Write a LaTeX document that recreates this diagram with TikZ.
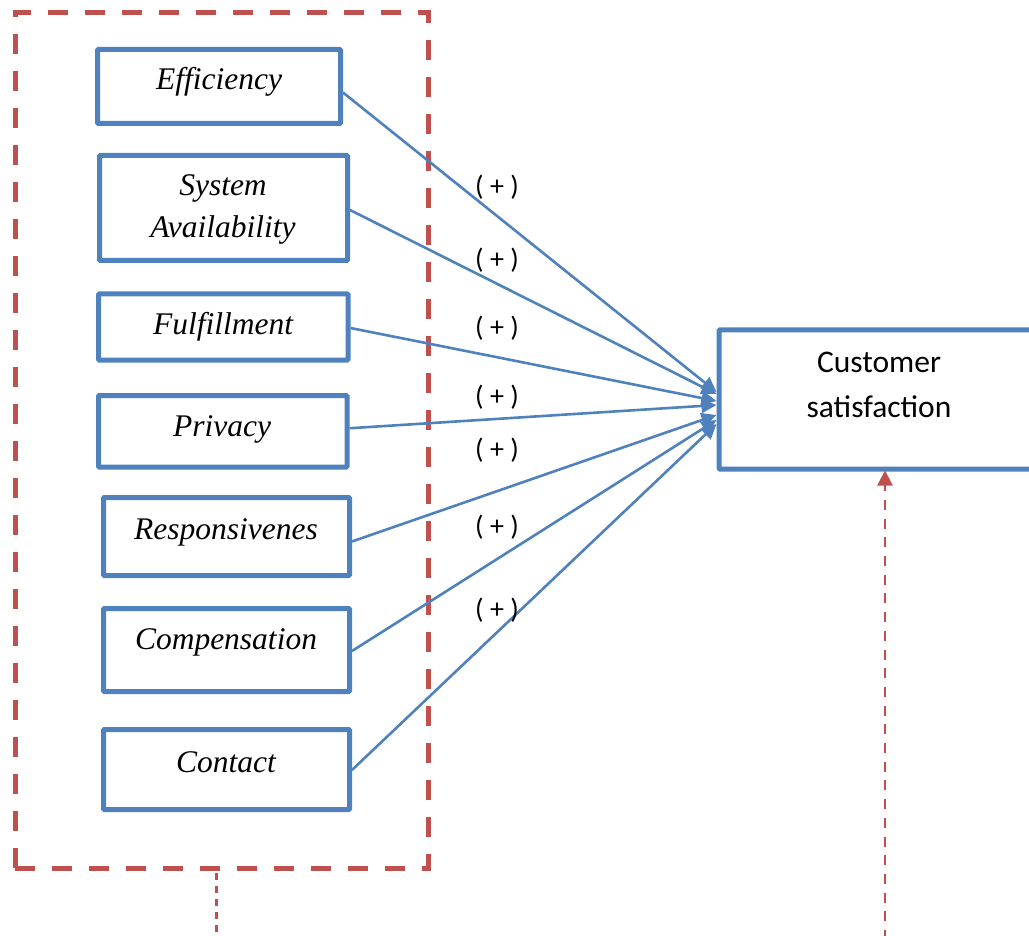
\documentclass[tikz,border=0pt]{standalone}
\usepackage{fontspec}
\setmainfont{Liberation Serif}
\newfontfamily\calibfont{Carlito}
\usetikzlibrary{arrows.meta}
\definecolor{boxblue}{RGB}{79,129,189}
\definecolor{grpred}{RGB}{192,80,77}
\begin{document}
\begin{tikzpicture}[x=1pt,y=-1pt,
  dim/.style={draw=boxblue,line width=5pt,fill=white,inner sep=0pt,rounded corners=1pt},
  dimtext/.style={font=\fontsize{31.5}{42}\selectfont\itshape,align=center,inner sep=0pt},
  link/.style={draw=boxblue,line width=2.6pt,-{Triangle[length=15pt,width=14pt]}},
  plus/.style={font=\calibfont\fontsize{28}{30}\selectfont,inner sep=0pt},
  grpbox/.style={draw=grpred,line width=5pt,dash pattern=on 20pt off 17pt,inner sep=0pt},
  dotline/.style={draw=grpred,line width=2.5pt}]
\useasboundingbox (0,0) rectangle (1029,936);
% group frame
\node[grpbox,minimum width=413pt,minimum height=855pt] (grp) at (221.5,440.5) {};
% dimension boxes
\node[dim,minimum width=243pt,minimum height=74pt] (eff) at (219,86.5) {};
\node[dim,minimum width=248pt,minimum height=105pt] (sa) at (223.5,208) {};
\node[dim,minimum width=249.5pt,minimum height=66pt] (ful) at (223.25,327) {};
\node[dim,minimum width=248.5pt,minimum height=71.5pt] (priv) at (222.75,431.25) {};
\node[dim,minimum width=246pt,minimum height=78pt] (resp) at (226.5,536.5) {};
\node[dim,minimum width=246pt,minimum height=83pt] (comp) at (226.5,650) {};
\node[dim,minimum width=246pt,minimum height=80pt] (cont) at (226.5,769.5) {};
\node[dim,minimum width=318pt,minimum height=139pt] (cs) at (878,399.5) {};
% texts
\node[dimtext] (teff) at (219,82) {Efficiency};
\node[dimtext] (tsa) at (223,209) {System\\Availability};
\node[dimtext] (tful) at (223,327) {Fulfillment};
\node[dimtext] (tpriv) at (222,429) {Privacy};
\node[dimtext] (tresp) at (226,532) {Responsivenes};
\node[dimtext] (tcomp) at (226,642) {Compensation};
\node[dimtext] (tcont) at (226,762) {Contact};
\node[font=\calibfont\fontsize{31.5}{45}\selectfont,align=center,inner sep=0pt] (tcs) at (879,385) {Customer\\satisfaction};
% arrows
\draw[link] ([yshift=-6pt]eff.east) -- ([yshift=7.5pt]cs.west);
\draw[link] ([yshift=-2pt]sa.east) -- ([yshift=5.5pt]cs.west);
\draw[link] ([yshift=-1pt]ful.east) -- ([yshift=-1.5pt]cs.west);
\draw[link] ([yshift=3pt]priv.east) -- ([yshift=-5.5pt]cs.west);
\draw[link] ([yshift=-5pt]resp.east) -- ([yshift=-15.5pt]cs.west);
\draw[link] ([yshift=-1pt]comp.east) -- ([yshift=-20.5pt]cs.west);
\draw[link] ([yshift=-0.5pt]cont.east) -- ([yshift=-24.5pt]cs.west);
% labels
\node[plus] (p1) at (497,187) {(\ +\ )};
\node[plus] (p2) at (497,260) {(\ +\ )};
\node[plus] (p3) at (497,328) {(\ +\ )};
\node[plus] (p4) at (497,397) {(\ +\ )};
\node[plus] (p5) at (497,450) {(\ +\ )};
\node[plus] (p6) at (497,527) {(\ +\ )};
\node[plus] (p7) at (497,610) {(\ +\ )};
% dotted connectors
\coordinate (bot) at (216.7,940);
\coordinate (rbot) at (885,940);
\draw[dotline,dash pattern=on 7pt off 6pt] (grp.south -| bot) ++(0,2.5) -- (bot);
\draw[dotline,dash pattern=on 10pt off 8.7pt,-{Triangle[length=15pt,width=15pt]}] (rbot) -- ([yshift=1pt]cs.south -| rbot);
\end{tikzpicture}
\end{document}
